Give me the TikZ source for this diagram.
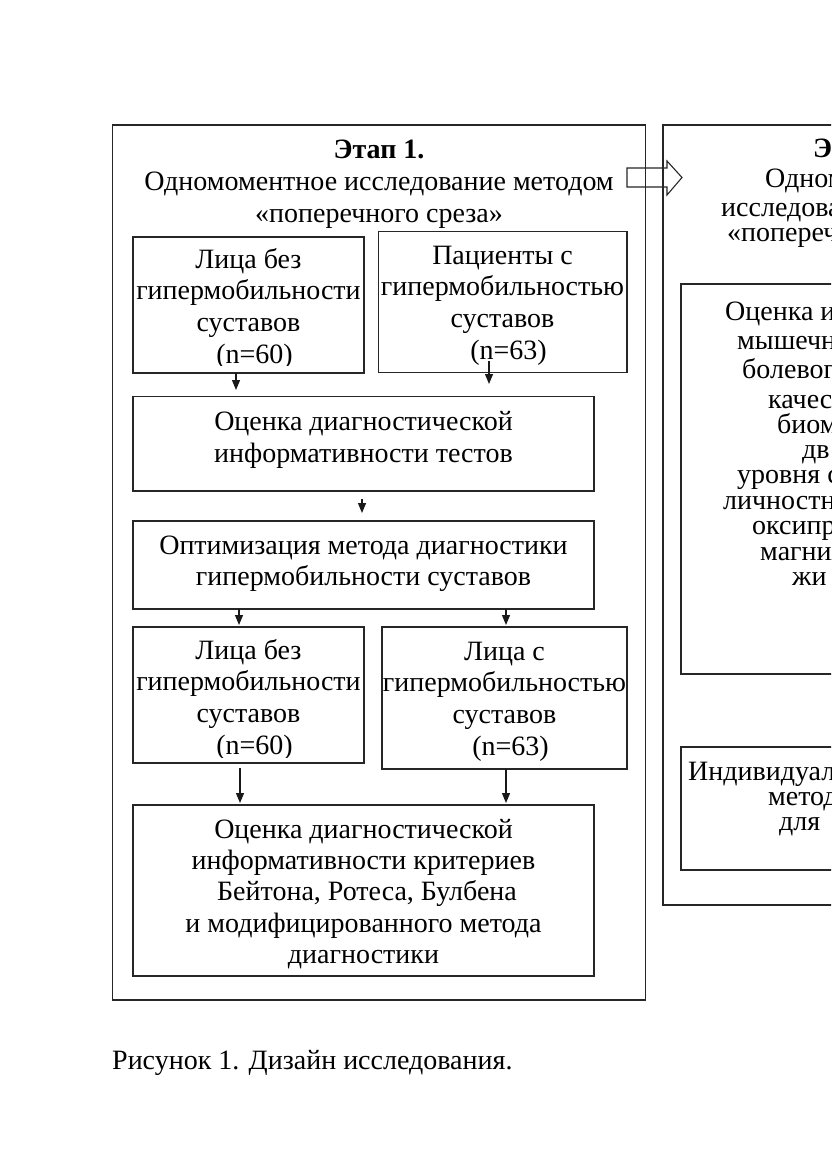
\documentclass[tikz,border=0pt]{standalone}
\usepackage{fontspec}
\setmainfont{Liberation Serif}
\usetikzlibrary{arrows.meta}
\newcommand{\tstrut}{\rule{0pt}{21pt}}
\begin{document}
\begin{tikzpicture}[x=1pt,y=-1pt,
  bx/.style={draw=black!85, line width=1.2pt, rectangle, inner sep=0pt, outer sep=0pt, anchor=north west},
  tx/.style={align=center, inner sep=0pt, font=\fontsize{28}{31.7}\selectfont, anchor=north},
  rt/.style={inner sep=0pt, font=\fontsize{28}{31}\selectfont, anchor=base west},
  ar/.style={draw=black!90, line width=1.2pt, -{Triangle[length=10pt,width=8pt]}},
  hollow/.style={draw=black!85, line width=1.1pt, fill=white}]
\clip (0,0) rectangle (831,1174);
\fill[white] (0,0) rectangle (831,1174);

% hollow arrow between stages
\draw[hollow] (627,168) -- (667,168) -- (667,161) -- (682,177.5) -- (667,195) -- (667,187) -- (627,187) -- cycle;

% stage panels
\node[bx, minimum width=533pt, minimum height=875pt] (P1) at (112.5,125) {};
\node[bx, minimum width=400pt, minimum height=780pt] (P2) at (663,125) {};

% stage 1 title
\node[tx, font=\fontsize{28}{32}\selectfont] (T1) at (379,137)
  {\tstrut\textbf{Этап 1.}\\Одномоментное исследование методом\\«поперечного среза»};

% boxes of stage 1
\node[bx, minimum width=231pt, minimum height=136pt] (A) at (133,237) {};
\node[bx, minimum width=248.5pt, minimum height=141pt] (B) at (378.5,231.5) {};
\node[bx, minimum width=461pt, minimum height=94.5pt] (C) at (133,396.5) {};
\node[bx, minimum width=461pt, minimum height=88pt] (D) at (133,521) {};
\node[bx, minimum width=231pt, minimum height=136pt] (E) at (133,627) {};
\node[bx, minimum width=245pt, minimum height=142pt] (F) at (382,627) {};
\node[bx, minimum width=461pt, minimum height=171pt] (G) at (133,805) {};

\begin{scope}
\clip (133,237) rectangle (364,365);
\node[tx] (At) at (248.5,247) {\tstrut Лица без\\гипермобильности\\суставов\\\hspace*{12pt}(n=60)};
\end{scope}
\node[tx] (Bt) at (502.5,243) {\tstrut Пациенты с\\гипермобильностью\\суставов\\\hspace*{12pt}(n=63)};
\node[tx] (Ct) at (363.5,409.5) {\tstrut Оценка диагностической\\информативности тестов};
\node[tx] (Dt) at (363.5,533) {\tstrut Оптимизация метода диагностики\\гипермобильности суставов};
\begin{scope}
\clip (133,627) rectangle (364,757);
\node[tx] (Et) at (248.5,638) {\tstrut Лица без\\гипермобильности\\суставов\\\hspace*{12pt}(n=60)};
\end{scope}
\node[tx] (Ft) at (504.5,639) {\tstrut Лица с\\гипермобильностью\\суставов\\\hspace*{12pt}(n=63)};
\node[tx, font=\fontsize{28}{31.3}\selectfont] (Gt) at (363.5,817)
  {\tstrut Оценка диагностической\\информативности критериев\\\hspace*{7pt}Бейтона, Ротеса, Булбена\\и модифицированного метода\\диагностики};

% connectors of stage 1
\coordinate (tAC) at (236,390);
\coordinate (tBC) at (489,384);
\coordinate (tCD) at (362,513);
\coordinate (tDE) at (239,625);
\coordinate (tDF) at (506,625);
\coordinate (tEG) at (240,803);
\coordinate (tFG) at (506,803);
\draw[ar] (A.south -| tAC) -- (tAC);
\draw[ar] ([xshift=-13.75pt,yshift=11.5pt]B.south) -- (tBC);
\draw[ar, shorten <=8pt] (C.south -| tCD) -- (tCD);
\draw[ar] (D.south -| tDE) -- (tDE);
\draw[ar] (D.south -| tDF) -- (tDF);
\draw[ar, shorten <=5pt] (E.south -| tEG) -- (tEG);
\draw[ar] (F.south -| tFG) -- (tFG);

% stage 2 (cut off at the right edge, as in the reference)
\node[rt, font=\bfseries\fontsize{28}{31}\selectfont] (T2a) at (813,158) {Этап 2.};
\node[rt] (T2b) at (765,188) {Одномоментное};
\node[rt] (T2c) at (721,217) {исследование};
\node[rt] (T2d) at (727,242) {«поперечного};

\node[bx, minimum width=300pt, minimum height=390pt] (R1) at (681,284) {};
\node[rt] (R1a) at (725,320) {Оценка и};
\node[rt] (R1b) at (737,349) {мышечн};
\node[rt] (R1c) at (742,378) {болевог};
\node[rt] (R1d) at (768,408) {качес};
\node[rt] (R1e) at (777,433) {биом};
\node[rt] (R1f) at (802,458) {дв};
\node[rt] (R1g) at (737,483) {уровня с};
\node[rt] (R1h) at (723,509) {личностно};
\node[rt] (R1i) at (752,534) {оксипро};
\node[rt] (R1j) at (760,560) {магния};
\node[rt] (R1k) at (792,585) {жи};

\node[bx, minimum width=300pt, minimum height=123pt] (R2) at (681,747) {};
\node[rt] (R2a) at (688,780) {Индивидуал};
\node[rt] (R2b) at (768,805) {методо};
\node[rt] (R2c) at (779,830) {для};

% caption
\node[rt] (cap) at (112,1069) {Рисунок 1. Дизайн исследования.};
\end{tikzpicture}
\end{document}
